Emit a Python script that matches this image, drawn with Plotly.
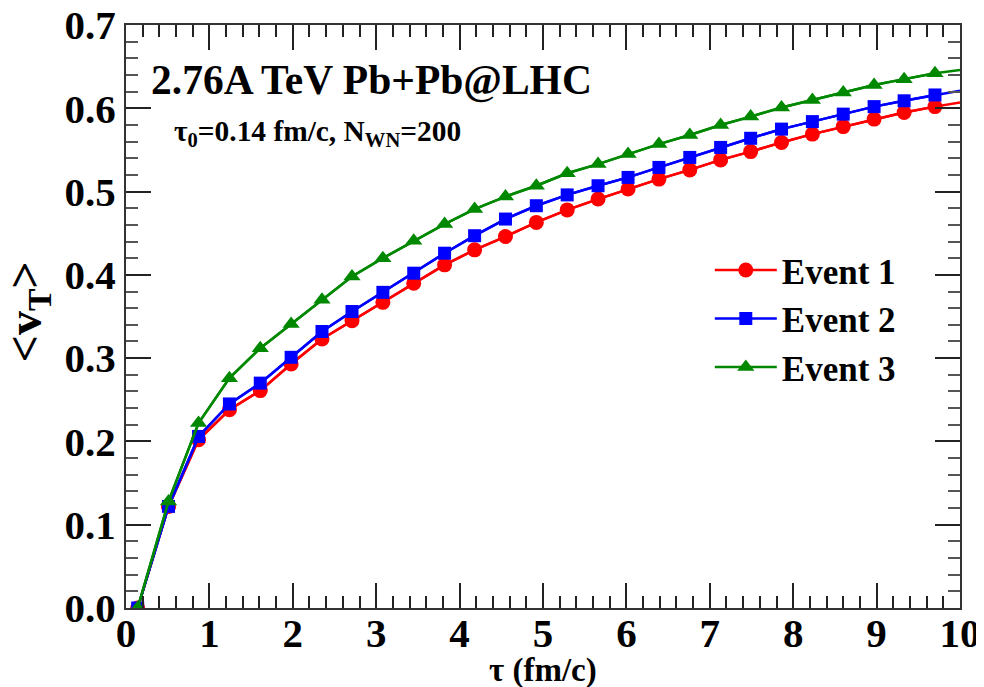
import plotly.graph_objects as go

# ---- data ----
tau = [0.14, 0.51, 0.87, 1.24, 1.61, 1.98, 2.35, 2.71, 3.08, 3.45, 3.82, 4.18, 4.55,
       4.92, 5.29, 5.66, 6.02, 6.39, 6.76, 7.13, 7.49, 7.86, 8.23, 8.60, 8.97, 9.33, 9.70]
event1 = [0.000, 0.122, 0.202, 0.238, 0.261, 0.293, 0.323, 0.345, 0.367, 0.390, 0.412,
          0.430, 0.446, 0.463, 0.478, 0.491, 0.503, 0.515, 0.526, 0.538, 0.548, 0.559,
          0.569, 0.578, 0.587, 0.595, 0.602]
event2 = [0.000, 0.122, 0.206, 0.245, 0.270, 0.301, 0.332, 0.356, 0.379, 0.402, 0.426,
          0.447, 0.467, 0.483, 0.496, 0.507, 0.517, 0.529, 0.541, 0.553, 0.564, 0.575,
          0.584, 0.593, 0.602, 0.609, 0.616]
event3 = [0.000, 0.128, 0.222, 0.276, 0.312, 0.341, 0.370, 0.398, 0.420, 0.441, 0.461,
          0.479, 0.494, 0.507, 0.522, 0.533, 0.545, 0.557, 0.568, 0.580, 0.590, 0.601,
          0.610, 0.619, 0.628, 0.635, 0.642]
# curve values at the right edge (tau = 10), where the lines continue past the last marker
tau_end = 10.0
end_values = [0.607, 0.621, 0.646]

names = ["Event 1", "Event 2", "Event 3"]
series = [event1, event2, event3]
colors = ["#ff0000", "#0000ff", "#008800"]
symbols = ["circle", "square", "triangle-up"]
sizes = [15, 13, 15]

FONT = "Liberation Serif"

fig = go.Figure()
for name, ys, c, sym, sz, ye in zip(names, series, colors, symbols, sizes, end_values):
    fig.add_trace(go.Scatter(x=tau + [tau_end], y=ys + [ye], mode="lines",
                             line=dict(color=c, width=2.5), showlegend=False,
                             hoverinfo="skip"))
    fig.add_trace(go.Scatter(x=tau, y=ys, mode="lines+markers", name=name,
                             line=dict(color=c, width=2.5),
                             marker=dict(symbol=sym, size=sz, color=c,
                                         line=dict(width=0))))

axis_common = dict(
    showgrid=False, zeroline=False, showline=True, linecolor="#333333", linewidth=2,
    mirror="allticks", ticks="inside", ticklen=25, tickwidth=1.5, tickcolor="#222222",
    tickfont=dict(family=FONT, size=41, color="black", weight="bold"),
    automargin=False, ticklabeloverflow="allow",
)

fig.update_xaxes(range=[0, 10], dtick=1, tick0=0, ticklabelstandoff=-12,
                 minor=dict(dtick=0.2, ticklen=12, tickcolor="#222222", ticks="inside",
                            tickwidth=1.5, showgrid=False),
                 **axis_common)
fig.update_yaxes(range=[0, 0.7], dtick=0.1, tick0=0, tickformat=".1f",
                 minor=dict(dtick=0.02, ticklen=12, tickcolor="#555555", ticks="inside",
                            tickwidth=1.5, showgrid=False),
                 **axis_common)

fig.add_annotation(text="<b>τ (fm/c)</b>", xref="paper", yref="paper",
                   x=0.5, y=-0.108, xanchor="center", yanchor="middle", showarrow=False,
                   font=dict(family=FONT, size=33, color="black"))
fig.add_annotation(text="<b>&lt;v<sub>T</sub>&gt;</b>", xref="paper", yref="paper",
                   x=-0.118, y=0.508, xanchor="center", yanchor="middle", showarrow=False,
                   textangle=-90, font=dict(family=FONT, size=48, color="black"))
fig.add_annotation(text="<b>2.76A TeV Pb+Pb@LHC</b>", xref="paper", yref="paper",
                   x=0.027, y=0.906, xanchor="left", yanchor="middle", showarrow=False,
                   font=dict(family=FONT, size=41.5, color="black"))
fig.add_annotation(text="<b>τ<sub>0</sub>=0.14 fm/c, N<sub>WN</sub>=200</b>",
                   xref="paper", yref="paper",
                   x=0.055, y=0.815, xanchor="left", yanchor="middle", showarrow=False,
                   font=dict(family=FONT, size=29.4, color="black"))

# the page puts the figure 8 px from the top-left corner of the window,
# so the figure is 8 px smaller and the margins are reduced by 8 px on the left/top
fig.update_layout(
    width=976, height=679,
    margin=dict(l=118, r=24, t=17, b=79),
    paper_bgcolor="white", plot_bgcolor="white",
    legend=dict(x=0.70, y=0.63, xanchor="left", yanchor="top",
                bgcolor="rgba(0,0,0,0)",
                font=dict(family=FONT, size=35, color="black", weight="bold"),
                itemwidth=62),
)

fig.write_html("out.html")
